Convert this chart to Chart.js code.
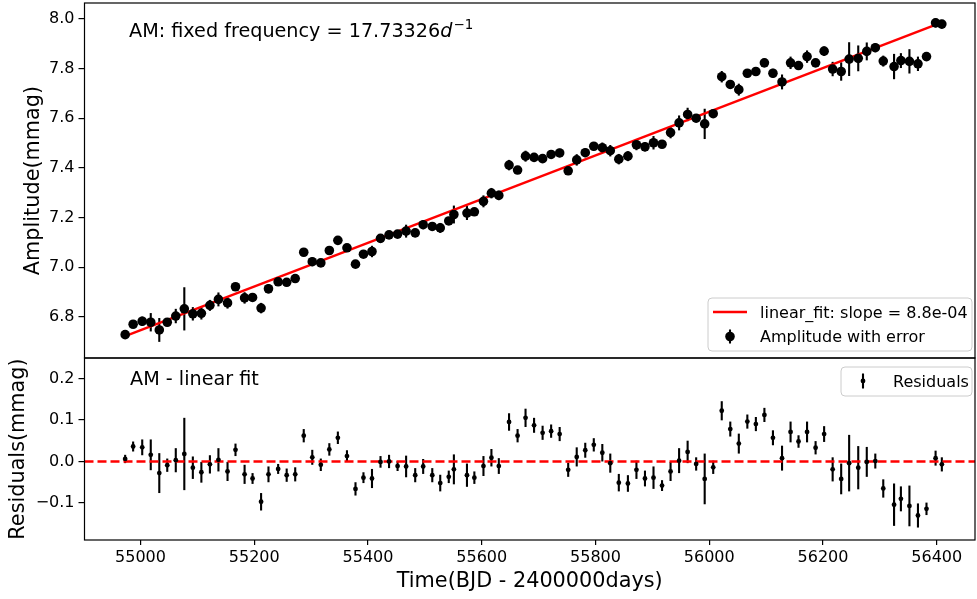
<!DOCTYPE html>
<html>
<head>
<meta charset="utf-8">
<script src="https://cdn.jsdelivr.net/npm/chart.js@4.4.0/dist/chart.umd.min.js"></script>
<style>
html, body { margin: 0; padding: 0; background: #fff; }
#wrap { width: 977px; height: 599px; }
</style>
</head>
<body>
<div id="wrap"><canvas id="graph" width="977" height="599"></canvas></div>
<script>
// observation times (BJD - 2400000)
const times = [54973, 54987, 55003, 55018, 55033, 55047, 55062, 55077, 55092, 55107, 55122, 55137,
    55153, 55167, 55183, 55197, 55212, 55225, 55242, 55257, 55272, 55287, 55302,
    55317, 55332, 55347, 55363, 55378, 55392, 55407, 55422, 55437, 55452, 55467,
    55483, 55497, 55513, 55527, 55542, 55551, 55574, 55587, 55603, 55617, 55630,
    55648, 55663, 55677, 55692, 55707, 55722, 55737, 55752, 55767, 55782, 55797, 55812, 55826,
    55841, 55857, 55872, 55887, 55902, 55917, 55932, 55947, 55962, 55977, 55992, 56007,
    56022, 56037, 56052, 56067, 56082, 56097, 56112, 56128,
    56143, 56157, 56172, 56187, 56202, 56217, 56232, 56246, 56262, 56277, 56292, 56306,
    56325, 56337, 56352, 56367, 56382, 56398, 56409];

const amplitudes = [6.728, 6.770, 6.782, 6.778, 6.747, 6.778, 6.803, 6.832, 6.812, 6.814, 6.846, 6.870,
    6.856, 6.921, 6.876, 6.878, 6.835, 6.913, 6.941, 6.939, 6.954, 7.060, 7.022,
    7.017, 7.067, 7.108, 7.078, 7.012, 7.052, 7.063, 7.116, 7.130, 7.133, 7.145,
    7.138, 7.171, 7.164, 7.158, 7.186, 7.212, 7.218, 7.223, 7.265, 7.298, 7.289,
    7.411, 7.391, 7.447, 7.442, 7.437, 7.454, 7.460, 7.388, 7.432, 7.461, 7.487, 7.481, 7.469,
    7.435, 7.447, 7.493, 7.485, 7.501, 7.495, 7.542, 7.581, 7.615, 7.600, 7.577, 7.618,
    7.767, 7.736, 7.715, 7.781, 7.788, 7.823, 7.781, 7.746,
    7.823, 7.812, 7.848, 7.823, 7.870, 7.798, 7.788, 7.838, 7.841, 7.869, 7.884, 7.830,
    7.808, 7.832, 7.829, 7.819, 7.848, 7.984, 7.979];

const residuals = [0.006, 0.036, 0.034, 0.016, -0.028, -0.009, 0.003, 0.018, -0.015, -0.026, -0.007, 0.004,
    -0.024, 0.028, -0.031, -0.041, -0.097, -0.031, -0.018, -0.033, -0.031, 0.062, 0.010,
    -0.008, 0.029, 0.057, 0.013, -0.066, -0.039, -0.041, -0.001, 0.000, -0.011, -0.012,
    -0.033, -0.012, -0.033, -0.052, -0.037, -0.019, -0.033, -0.039, -0.011, 0.009, -0.011,
    0.095, 0.062, 0.105, 0.087, 0.069, 0.073, 0.066, -0.020, 0.011, 0.027, 0.040, 0.021, -0.004,
    -0.051, -0.053, -0.020, -0.041, -0.039, -0.058, -0.024, 0.002, 0.023, -0.006, -0.042, -0.014,
    0.122, 0.078, 0.043, 0.096, 0.090, 0.112, 0.057, 0.008,
    0.071, 0.048, 0.071, 0.033, 0.066, -0.019, -0.042, -0.004, -0.015, -0.001, 0.001, -0.065,
    -0.104, -0.090, -0.107, -0.130, -0.114, 0.008, -0.007];

const errors = [0.010, 0.012, 0.019, 0.037, 0.048, 0.016, 0.029, 0.087, 0.027, 0.025, 0.022, 0.028,
    0.023, 0.015, 0.023, 0.013, 0.021, 0.019, 0.012, 0.016, 0.017, 0.016, 0.018,
    0.015, 0.015, 0.015, 0.014, 0.016, 0.013, 0.023, 0.014, 0.016, 0.012, 0.026,
    0.017, 0.018, 0.017, 0.020, 0.015, 0.036, 0.028, 0.015, 0.024, 0.021, 0.019,
    0.021, 0.016, 0.022, 0.018, 0.017, 0.016, 0.017, 0.017, 0.023, 0.018, 0.016, 0.021, 0.023,
    0.021, 0.020, 0.022, 0.019, 0.027, 0.013, 0.023, 0.030, 0.027, 0.016, 0.061, 0.016,
    0.023, 0.018, 0.024, 0.017, 0.017, 0.017, 0.018, 0.030,
    0.025, 0.015, 0.025, 0.016, 0.019, 0.029, 0.037, 0.068, 0.052, 0.036, 0.018, 0.022,
    0.051, 0.030, 0.049, 0.029, 0.015, 0.018, 0.017];

// linear fit end points
const fitTimes = [54973, 56409];
const fitValues = [6.722, 7.986];

// axis limits and tick values
const xRange = [54901.5, 56467.3];
const ampRange = [6.634, 8.064];
const resRange = [-0.189, 0.249];
const xTicks = [55000, 55200, 55400, 55600, 55800, 56000, 56200, 56400];
const ampTicks = [6.8, 7.0, 7.2, 7.4, 7.6, 7.8, 8.0];
const resTicks = [-0.1, 0.0, 0.1, 0.2];

const FONT = '"DejaVu Sans"';
Chart.defaults.font.family = FONT;
Chart.defaults.color = '#000';

function pts(xs, ys) {
    return xs.map((x, i) => ({ x: x, y: ys[i] }));
}

function fmt1(v) {
    if (Math.abs(v) < 1e-9) return '0.0';
    return v.toFixed(1).replace('-', '\u2212');
}

function setTicks(values) {
    return s => { s.ticks = values.map(v => ({ value: v })); };
}

// vertical error bars for the two point series
const errorBars = {
    id: 'errorBars',
    beforeDatasetsDraw(chart) {
        const ctx = chart.ctx;
        const x = chart.scales.x;
        ctx.save();
        ctx.strokeStyle = '#000';
        ctx.lineWidth = 2.1;
        chart.data.datasets.forEach(ds => {
            if (!ds.errors) return;
            const y = chart.scales[ds.yAxisID];
            ds.data.forEach((p, i) => {
                const px = x.getPixelForValue(p.x);
                ctx.beginPath();
                ctx.moveTo(px, y.getPixelForValue(p.y - ds.errors[i]));
                ctx.lineTo(px, y.getPixelForValue(p.y + ds.errors[i]));
                ctx.stroke();
            });
        });
        ctx.restore();
    }
};

function legendBox(ctx, x, y, w, h) {
    ctx.save();
    ctx.fillStyle = 'rgba(255,255,255,0.8)';
    ctx.strokeStyle = '#cccccc';
    ctx.lineWidth = 1;
    ctx.beginPath();
    ctx.roundRect(x, y, w, h, 4);
    ctx.fill();
    ctx.stroke();
    ctx.restore();
}

function errMarker(ctx, x, y, r, half) {
    ctx.strokeStyle = '#000';
    ctx.lineWidth = 2.1;
    ctx.beginPath();
    ctx.moveTo(x, y - half);
    ctx.lineTo(x, y + half);
    ctx.stroke();
    ctx.fillStyle = '#000';
    ctx.beginPath();
    ctx.arc(x, y, r, 0, Math.PI * 2);
    ctx.fill();
}

// panel frames, annotations and legends
const decorations = {
    id: 'decorations',
    afterDraw(chart) {
        const ctx = chart.ctx;
        const area = chart.chartArea;
        const amp = chart.scales.yAmp;
        const res = chart.scales.yRes;
        ctx.save();

        ctx.strokeStyle = '#000';
        ctx.lineWidth = 1.2;
        ctx.strokeRect(area.left, amp.top, area.right - area.left, amp.bottom - amp.top);
        ctx.strokeRect(area.left, res.top, area.right - area.left, res.bottom - res.top);

        ctx.fillStyle = '#000';
        ctx.textBaseline = 'alphabetic';
        ctx.textAlign = 'left';
        let tx = area.left + 44.5;
        const ty = amp.top + 34;
        const head = 'AM: fixed frequency = 17.73326';
        ctx.font = '19.2px ' + FONT;
        ctx.fillText(head, tx, ty);
        tx += ctx.measureText(head).width;
        ctx.font = 'italic 19.2px ' + FONT;
        ctx.fillText('d', tx, ty);
        tx += ctx.measureText('d').width + 1;
        ctx.font = '13.4px ' + FONT;
        ctx.fillText('\u22121', tx, ty - 8);

        ctx.font = '19.2px ' + FONT;
        ctx.fillText('AM - linear fit', area.left + 45.5, res.top + 27);

        // top legend
        const lw = 264, lh = 53;
        const lx = area.right - 3 - lw, ly = amp.bottom - 7 - lh;
        legendBox(ctx, lx, ly, lw, lh);
        ctx.strokeStyle = '#ff0000';
        ctx.lineWidth = 2.4;
        ctx.beginPath();
        ctx.moveTo(lx + 5, ly + 14);
        ctx.lineTo(lx + 39, ly + 14);
        ctx.stroke();
        errMarker(ctx, lx + 22, ly + 38.5, 4.8, 7);
        ctx.fillStyle = '#000';
        ctx.font = '16px ' + FONT;
        ctx.fillText('linear_fit: slope = 8.8e-04', lx + 52, ly + 19.8);
        ctx.fillText('Amplitude with error', lx + 52, ly + 44.3);

        // bottom legend
        const rw = 131, rh = 29;
        const rx = area.right - 3 - rw, ry = res.top + 9;
        legendBox(ctx, rx, ry, rw, rh);
        errMarker(ctx, rx + 22, ry + 14, 2.4, 7.5);
        ctx.fillStyle = '#000';
        ctx.font = '16px ' + FONT;
        ctx.fillText('Residuals', rx + 52, ry + 19.8);

        ctx.restore();
    }
};

const axisGrid = { drawOnChartArea: false, drawTicks: true, tickLength: 6, color: '#000', lineWidth: 1.2 };

function fitY(s) {
    s.width = 84.5;
    s.paddingTop = 0;
    s.paddingBottom = 0;
}

const graph = document.getElementById('graph');
let chart = new Chart(graph, {
    type: 'scatter',
    data: {
        datasets: [{
            label: 'Amplitude with error',
            data: pts(times, amplitudes),
            errors: errors,
            yAxisID: 'yAmp',
            pointRadius: 4.8,
            pointBackgroundColor: '#000',
            pointBorderWidth: 0
        }, {
            label: 'Residuals',
            data: pts(times, residuals),
            errors: errors,
            yAxisID: 'yRes',
            pointRadius: 2.4,
            pointBackgroundColor: '#000',
            pointBorderWidth: 0
        }, {
            label: 'linear_fit: slope = 8.8e-04',
            data: pts(fitTimes, fitValues),
            yAxisID: 'yAmp',
            showLine: true,
            borderColor: '#ff0000',
            borderWidth: 2.4,
            pointRadius: 0
        }, {
            label: 'zero',
            data: pts(xRange, [0, 0]),
            yAxisID: 'yRes',
            showLine: true,
            borderColor: '#ff0000',
            borderWidth: 2.4,
            borderDash: [9, 4],
            pointRadius: 0
        }]
    },
    options: {
        responsive: false,
        animation: false,
        devicePixelRatio: 1,
        layout: { autoPadding: false, padding: { top: 3, right: 2, bottom: 0, left: 0 } },
        plugins: { legend: { display: false }, tooltip: { enabled: false } },
        scales: {
            x: {
                type: 'linear',
                position: 'bottom',
                min: xRange[0],
                max: xRange[1],
                afterBuildTicks: setTicks(xTicks),
                ticks: { maxRotation: 0, autoSkip: false, padding: 3,
                    font: { size: 16 }, callback: v => v.toFixed(0) },
                grid: Object.assign({}, axisGrid, { tickLength: 5 }),
                border: { display: false },
                title: { display: true, text: 'Time(BJD - 2400000days)', font: { size: 20.8 },
                    padding: { top: 0, bottom: 4.5 } },
                afterFit: s => { s.height = 59; s.paddingLeft = 0; s.paddingRight = 0; }
            },
            yRes: {
                type: 'linear',
                position: 'left',
                stack: 'panels',
                stackWeight: 182,
                weight: 0,
                min: resRange[0],
                max: resRange[1],
                afterBuildTicks: setTicks(resTicks),
                ticks: { autoSkip: false, padding: 4, font: { size: 16 }, callback: fmt1 },
                grid: axisGrid,
                border: { display: false },
                title: { display: true, text: 'Residuals(mmag)', font: { size: 20.8 }, padding: { top: 6.5 } },
                afterFit: fitY
            },
            yAmp: {
                type: 'linear',
                position: 'left',
                stack: 'panels',
                stackWeight: 355,
                weight: 1,
                min: ampRange[0],
                max: ampRange[1],
                afterBuildTicks: setTicks(ampTicks),
                ticks: { autoSkip: false, padding: 4, font: { size: 16 }, callback: fmt1 },
                grid: axisGrid,
                border: { display: false },
                title: { display: true, text: 'Amplitude(mmag)', font: { size: 20.8 }, padding: { top: 21.5 } },
                afterFit: fitY
            }
        }
    },
    plugins: [errorBars, decorations]
});
</script>
</body>
</html>
